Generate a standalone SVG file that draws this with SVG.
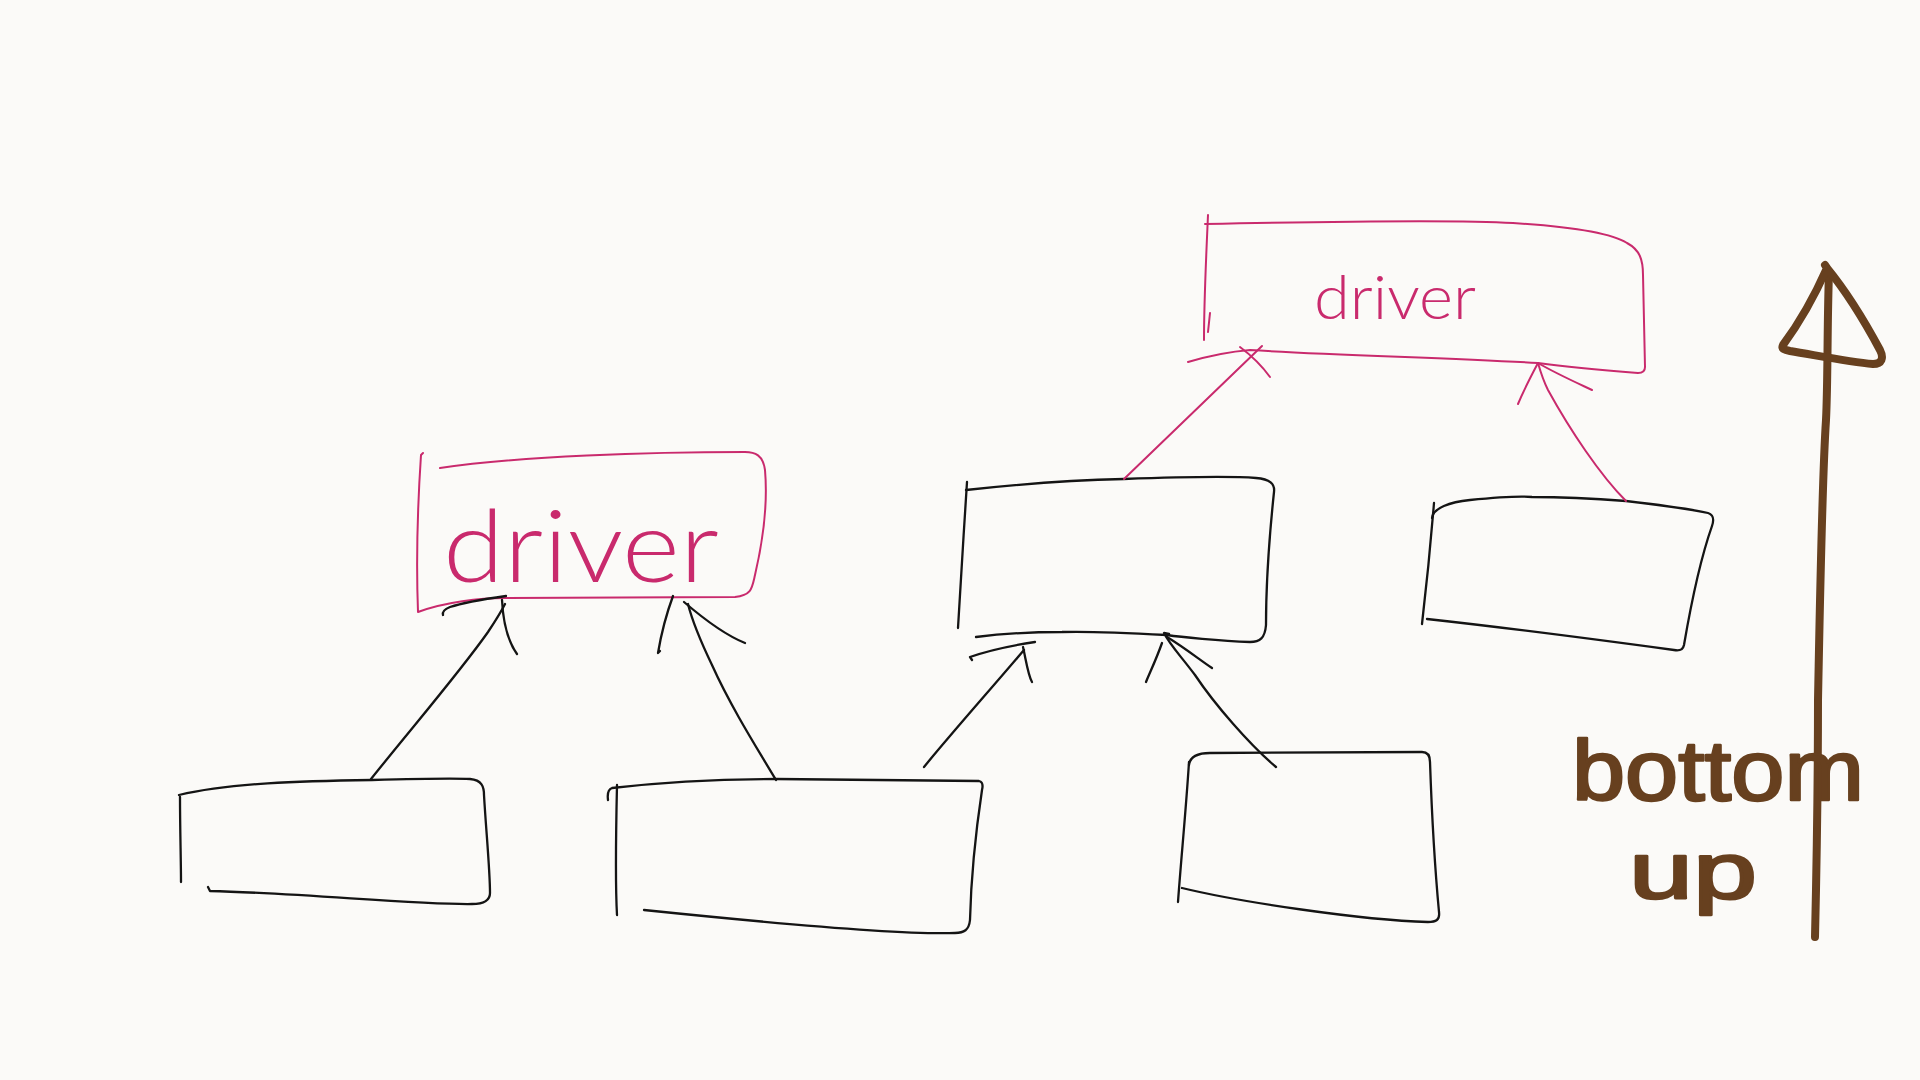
<svg xmlns="http://www.w3.org/2000/svg" width="1920" height="1080" viewBox="0 0 1920 1080">
<style>
.ink{fill:none;stroke:#141414;stroke-width:2.3;stroke-linecap:round;stroke-linejoin:round}
.pink{fill:none;stroke:#c92a6d;stroke-width:2;stroke-linecap:round;stroke-linejoin:round}
.brown{fill:none;stroke:#67401f;stroke-width:8;stroke-linecap:round;stroke-linejoin:round}
.ptxt{font-family:Lato,"Open Sans","Liberation Sans",sans-serif;font-weight:300;fill:#c92a6d}
.btxt{font-family:"Liberation Sans",Arial,sans-serif;font-weight:normal;fill:#67401f;stroke:#67401f;stroke-width:2.5;stroke-linejoin:round}
</style>
<rect width="1920" height="1080" fill="#fbfaf8"/>

<g id="driver-left">
<path class="pink" d="M423,453 L421,455 C418,500 416,560 418,612 C445,602 480,598 505,598 L735,597 C752,595 752,588 755,575 C762,545 768,505 765,470 C763,455 755,452 745,452 C650,452 520,456 440,468"/>
<text class="ptxt" x="443" y="582" font-size="100" textLength="276" lengthAdjust="spacingAndGlyphs">driver</text>
</g>

<g id="driver-right">
<path class="pink" d="M1208,215 C1206,260 1204,300 1204,340"/>
<path class="pink" d="M1210,313 L1208,332"/>
<path class="pink" d="M1205,224 C1300,222 1450,219 1513,223 C1560,226 1610,232 1627,243 C1640,250 1643,260 1643,275 L1645,367 C1645,372 1642,373 1638,373 C1600,370 1560,366 1538,363 C1450,358 1330,355 1250,350 C1225,352 1205,357 1188,362"/>
<text class="ptxt" x="1314" y="319" font-size="62" textLength="162" lengthAdjust="spacingAndGlyphs">driver</text>
</g>

<g id="box-a">
<path class="ink" d="M180,797 C180,830 181,860 181,882"/>
<path class="ink" d="M179,795 C230,783 300,781 372,780 C410,779 450,778 470,779 C482,780 484,787 484,795 C486,830 490,870 490,893 C490,902 482,904 472,904 C420,905 300,893 210,891 L208,887"/>
</g>

<g id="box-b">
<path class="ink" d="M617,785 C616,830 615,880 617,915"/>
<path class="ink" d="M608,800 C607,792 609,789 612,788 C680,780 740,779 776,779 L979,781 C983,782 983,786 982,790 C976,830 971,880 970,920 C969,930 964,933 955,933 C900,935 760,922 644,910"/>
</g>

<g id="box-c">
<path class="ink" d="M967,482 C964,530 960,590 958,628"/>
<path class="ink" d="M966,490 C1020,484 1080,480 1124,479 C1180,477 1230,476 1256,478 C1270,479 1275,484 1274,492 C1270,530 1266,580 1266,625 C1265,638 1260,642 1250,642 C1220,641 1180,637 1167,635 C1130,633 1090,631 1062,632 C1030,632 1000,634 976,637"/>
</g>

<g id="box-d">
<path class="ink" d="M1189,762 C1186,810 1181,860 1178,902"/>
<path class="ink" d="M1189,765 C1190,757 1197,753 1210,753 L1422,752 C1428,752 1430,756 1430,762 C1432,820 1436,880 1439,912 C1440,920 1436,922 1428,922 C1360,920 1240,902 1182,888"/>
</g>

<g id="box-e">
<path class="ink" d="M1434,503 C1431,540 1426,590 1422,624"/>
<path class="ink" d="M1432,518 C1433,508 1450,502 1470,500 C1500,497 1520,496 1532,497 C1570,497 1600,499 1626,501 C1660,505 1690,509 1708,513 C1714,515 1714,520 1712,526 C1700,560 1690,610 1684,645 C1683,650 1680,651 1674,650 C1600,640 1500,627 1427,619"/>
</g>

<g id="connectors">
<path class="ink" d="M371,779 C410,730 460,672 488,632 C496,620 501,612 505,604"/>
<path class="ink" d="M443,615 C442,611 445,609 450,607 C465,602 485,599 506,596"/>
<path class="ink" d="M502,600 C503,620 507,640 517,654"/>

<path class="ink" d="M776,780 C755,745 730,705 712,665 C700,640 692,620 688,604"/>
<path class="ink" d="M673,596 C666,615 661,635 658,653 L660,651"/>
<path class="ink" d="M684,602 C705,620 725,635 745,643"/>

<path class="ink" d="M924,767 C950,735 990,690 1024,650"/>
<path class="ink" d="M972,660 L970,657 C990,650 1015,645 1035,642"/>
<path class="ink" d="M1023,647 C1026,660 1028,675 1032,682"/>

<path class="ink" d="M1276,767 C1250,745 1215,705 1195,675 C1180,655 1170,645 1164,633 L1169,634"/>
<path class="ink" d="M1162,643 C1156,660 1150,672 1146,682"/>
<path class="ink" d="M1167,637 C1185,648 1200,660 1212,668"/>

<path class="pink" d="M1124,479 L1262,346"/>
<path class="pink" d="M1240,347 C1252,356 1262,366 1270,377"/>

<path class="pink" d="M1626,501 C1600,475 1570,430 1548,390 C1543,380 1540,370 1538,363"/>
<path class="pink" d="M1538,363 C1555,373 1575,382 1592,390"/>
<path class="pink" d="M1538,363 C1530,378 1523,392 1518,404"/>

<path class="brown" d="M1815,937 C1817,850 1818,760 1818,700 C1820,600 1822,480 1826,420 C1828,380 1827,330 1829,272"/>
<path class="brown" d="M1825,265 L1827,268 C1815,295 1800,322 1783,345 C1781,349 1785,350 1790,351 C1820,356 1850,362 1873,364 C1882,364 1884,358 1880,350 C1865,322 1845,290 1827,268"/>
</g>

<g id="label-bottom-up">
<text class="btxt" x="1572" y="800" font-size="86" textLength="292" lengthAdjust="spacingAndGlyphs">bottom</text>
<text class="btxt" x="1629" y="898" font-size="80" textLength="128" lengthAdjust="spacingAndGlyphs">up</text>
</g>
</svg>
